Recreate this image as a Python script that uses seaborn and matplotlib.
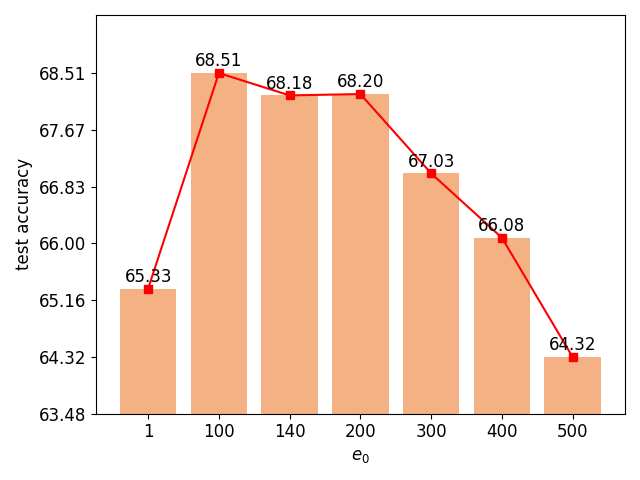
import matplotlib
matplotlib.use('Agg')
import matplotlib.pyplot as plt
import seaborn as sns
import numpy as np

e0_labels = ['1', '100', '140', '200', '300', '400', '500']
accuracy = [65.33, 68.51, 68.18, 68.20, 67.03, 66.08, 64.32]

fig, ax = plt.subplots(figsize=(6.4, 4.8), dpi=100)
sns.barplot(x=e0_labels, y=accuracy, color='#f4b183', saturation=1, width=0.8, ax=ax)
ax.bar_label(ax.containers[0], fmt='%.2f', fontsize=12, padding=2)

pos = np.arange(len(e0_labels))
ax.plot(pos, accuracy, color='red', marker='s', markersize=6)

lo = min(accuracy) * 0.987
ax.set_ylim(lo, max(accuracy) * 1.0125)
ax.set_yticks(np.linspace(lo, max(accuracy), 7))
ax.yaxis.set_major_formatter(matplotlib.ticker.FormatStrFormatter('%.2f'))
ax.tick_params(labelsize=12)
ax.set_xlabel('$e_0$', fontsize=12)
ax.set_ylabel('test accuracy', fontsize=12)

plt.tight_layout()
plt.savefig('out.png')
plt.close(fig)
